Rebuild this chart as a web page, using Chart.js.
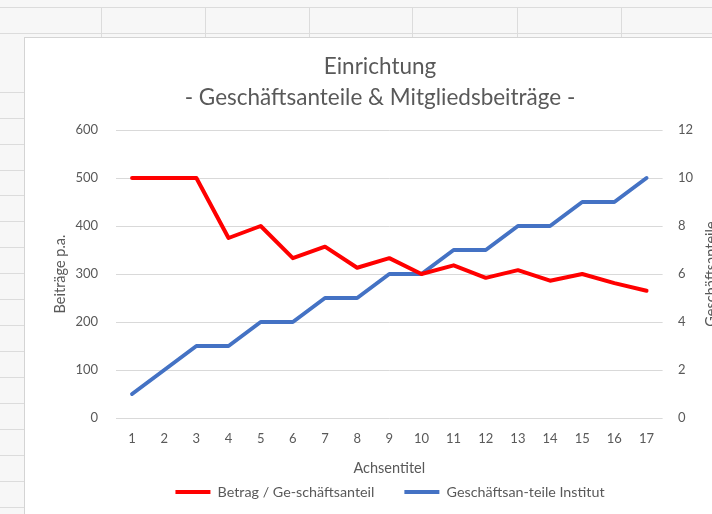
<!DOCTYPE html>
<html><head><meta charset="utf-8">
<script src="https://cdn.jsdelivr.net/npm/chart.js@4/dist/chart.umd.min.js"></script>
<style>
html,body{margin:0;padding:0;width:712px;height:514px;overflow:hidden;background:#f7f7f7;}
#sheet{position:absolute;left:0;top:0;width:712px;height:514px;}
#sheet .h{position:absolute;height:1px;background:#dcdcdc;}
#sheet .v{position:absolute;width:1px;background:#dcdcdc;}
#box{position:absolute;left:24px;top:37px;width:800px;height:600px;background:#fff;border-left:1px solid #d4d4d4;border-top:1px solid #d4d4d4;}
#cw{position:absolute;left:25px;top:38px;width:710px;height:476px;}
</style></head>
<body>
<div id="sheet"></div>
<div id="box"></div>
<div id="cw"><canvas id="c"></canvas></div>
<script>
// ---- data ----
const categories = ['1','2','3','4','5','6','7','8','9','10','11','12','13','14','15','16','17'];
const betragValues = [500,500,500,375,400,333,357,313,333,300,318,292,308,286,300,281,265];
const anteileValues = [1,2,3,3,4,4,5,5,6,6,7,7,8,8,9,9,10];
const leftTicks = [0,100,200,300,400,500,600];
const rightTicks = [0,2,4,6,8,10,12];
const seriesNames = ['Betrag / Ge-schäftsanteil','Geschäftsan-teile Institut'];
const titleLines = ['Einrichtung','- Geschäftsanteile & Mitgliedsbeiträge -'];
const leftAxisTitle = 'Beiträge p.a.';
const rightAxisTitle = 'Geschäftsanteile';
const xAxisTitle = 'Achsentitel';

// ---- spreadsheet backdrop ----
const sheet = document.getElementById('sheet');
function line(cls, x, y, w, h){ const d=document.createElement('div'); d.className=cls; d.style.left=x+'px'; d.style.top=y+'px'; if(cls==='h') d.style.width=w+'px'; else d.style.height=h+'px'; sheet.appendChild(d); }
line('h',0,7,712,0); line('h',0,33,712,0);
[101,205,309,412,517,621].forEach(x=>line('v',x,7,0,30));
for(let k=0;k<17;k++) line('h',0,Math.round(91.7+25.94*k),24,0);

// ---- chart ----
const FONT = 'Lato';
const GREY = '#595959';
const rightTitlePlugin = {
  id:'rightTitle',
  afterDraw(chart){
    const s = chart.scales.y1, a = chart.chartArea, ctx = chart.ctx;
    ctx.save();
    ctx.font = '14.5px ' + FONT;
    ctx.fillStyle = GREY;
    ctx.textAlign = 'center';
    ctx.textBaseline = 'middle';
    ctx.translate(s.right - 24, (a.top + a.bottom)/2);
    ctx.rotate(-Math.PI/2);
    ctx.fillText(rightAxisTitle, 0, 0);
    ctx.restore();
  }
};
const legendShift = { id:'legendShift', afterLayout(chart){ chart.legend.left += 10; chart.legend.right += 10; } };

new Chart(document.getElementById('c'), {
  type:'line',
  data:{
    labels: categories,
    datasets:[
      {label:seriesNames[0], data:betragValues, yAxisID:'y', borderColor:'#ff0000', backgroundColor:'#ff0000', borderWidth:4, pointRadius:0, tension:0, borderJoinStyle:'round', borderCapStyle:'round'},
      {label:seriesNames[1], data:anteileValues, yAxisID:'y1', borderColor:'#4472c4', backgroundColor:'#4472c4', borderWidth:4, pointRadius:0, tension:0, borderJoinStyle:'round', borderCapStyle:'round'}
    ]
  },
  options:{
    responsive:true, maintainAspectRatio:false, animation:false,
    layout:{padding:{left:0,right:0,top:0,bottom:4.85}},
    plugins:{
      title:{display:true, text:titleLines, color:GREY, font:{family:FONT, size:22.5, weight:'normal', lineHeight:31/22.5}, padding:{top:13.5,bottom:16.5}},
      legend:{position:'bottom', labels:{usePointStyle:true, pointStyle:'line', pointStyleWidth:35, color:GREY, font:{family:FONT,size:14.3}, padding:30}},
      tooltip:{enabled:false}
    },
    scales:{
      x:{offset:true, grid:{display:false, drawTicks:false}, border:{display:false},
         ticks:{color:GREY, font:{family:FONT,size:13}, padding:13.2, maxRotation:0, autoSkip:false},
         title:{display:true, text:xAxisTitle, color:GREY, font:{family:FONT,size:14.5}, padding:{top:0,bottom:-21.85}},
         afterFit(s){ s.height = 36.85; }},
      y:{position:'left', min:leftTicks[0], max:leftTicks[leftTicks.length-1],
         afterBuildTicks(s){ s.ticks = leftTicks.map(v=>({value:v})); },
         ticks:{color:GREY, font:{family:FONT,size:13}, padding:18},
         grid:{color:'#d9d9d9', lineWidth:1, drawTicks:false}, border:{display:false},
         title:{display:true, text:leftAxisTitle, color:GREY, font:{family:FONT,size:14.5}, padding:{top:26.3,bottom:0}},
         afterFit(s){ s.width = 91; }},
      y1:{position:'right', min:rightTicks[0], max:rightTicks[rightTicks.length-1],
         afterBuildTicks(s){ s.ticks = rightTicks.map(v=>({value:v})); },
         ticks:{color:GREY, font:{family:FONT,size:13}, padding:15.4},
         grid:{display:false, drawTicks:false}, border:{display:false},
         afterFit(s){ s.width = 72.4; }}
    }
  },
  plugins:[rightTitlePlugin, legendShift]
});
</script>
</body></html>
